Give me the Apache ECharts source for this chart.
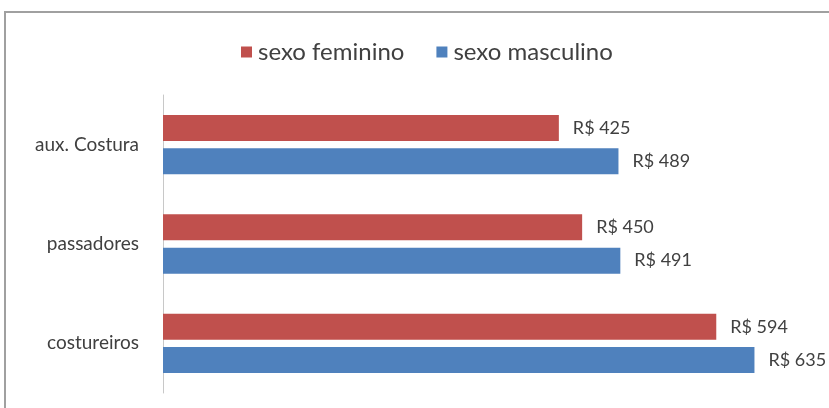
<!DOCTYPE html>
<html><head><meta charset="utf-8">
<script src="https://cdn.jsdelivr.net/npm/echarts@6/dist/echarts.min.js"></script>
<style>html,body{margin:0;padding:0;background:#fff}#c{width:829px;height:408px}</style>
</head><body><div id="c"></div>
<script>
const categories = ['aux. Costura', 'passadores', 'costureiros'];
const seriesNames = ['sexo feminino', 'sexo masculino'];
const feminino = [425, 450, 594];
const masculino = [489, 491, 635];

const chart = echarts.init(document.getElementById('c'), null, {renderer: 'canvas'});
const txt = '#404040';
const font = 'Lato';
chart.setOption({
  animation: false,
  color: ['#C0504D', '#4F81BD'],
  graphic: [{
    type: 'rect', silent: true, z: -1,
    shape: {x: 5, y: 12, width: 1000, height: 600},
    style: {fill: '#fff', stroke: '#a0a0a0', lineWidth: 2}
  }],
  legend: {
    left: 236, top: 35,
    itemWidth: 11, itemHeight: 11, itemGap: 32,
    icon: 'rect',
    textStyle: {fontFamily: font, fontSize: 24, color: txt, padding: [0, 0, 0, 1]},
    data: seriesNames
  },
  grid: {left: 163, top: 95, width: 652, height: 298, containLabel: false},
  xAxis: {
    type: 'value', min: 0, max: 700, show: false
  },
  yAxis: {
    type: 'category', inverse: true, data: categories,
    axisLine: {show: true, lineStyle: {color: '#c8c8c8', width: 1}},
    axisTick: {show: false},
    axisLabel: {margin: 24, fontFamily: font, fontSize: 19, color: txt}
  },
  series: [
    {name: seriesNames[0], type: 'bar', data: feminino, barWidth: 26, barGap: '28%',
     label: {show: true, position: 'right', distance: 14, formatter: 'R$ {c}', fontFamily: font, fontSize: 18, color: txt}},
    {name: seriesNames[1], type: 'bar', data: masculino, barWidth: 26, barGap: '28%',
     label: {show: true, position: 'right', distance: 14, formatter: 'R$ {c}', fontFamily: font, fontSize: 18, color: txt}}
  ]
});
</script></body></html>
